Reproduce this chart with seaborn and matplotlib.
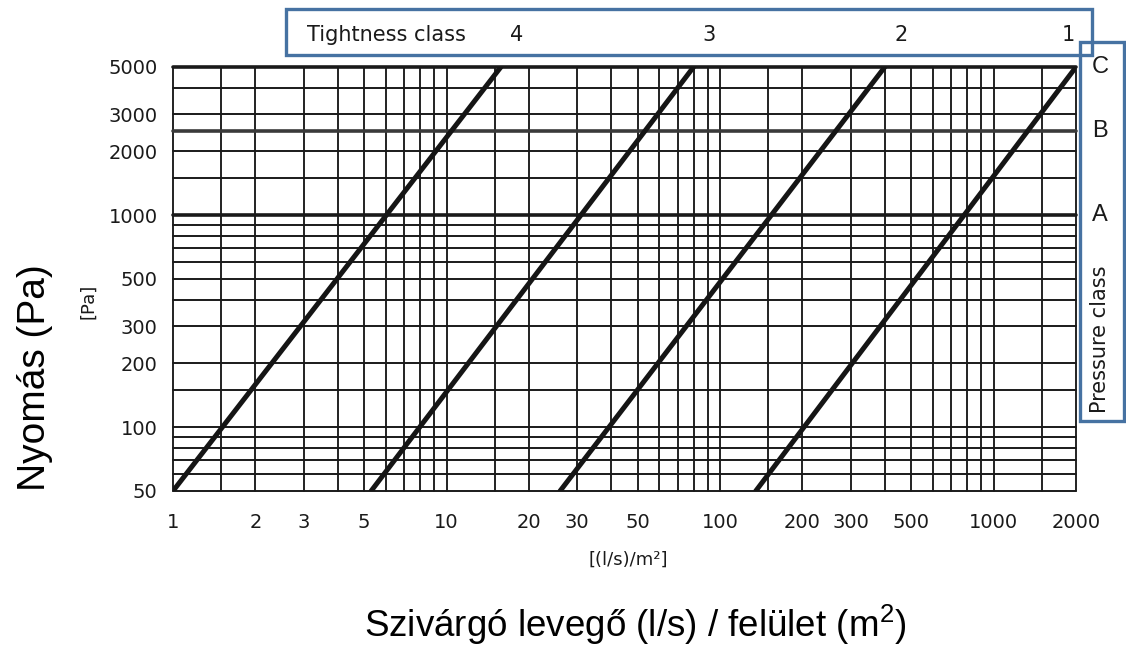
import matplotlib
matplotlib.use("Agg")
import matplotlib.pyplot as plt
import matplotlib.transforms as mtransforms
from matplotlib.patches import Rectangle
from matplotlib.ticker import NullLocator
import pandas as pd
import seaborn as sns

# ---------------- data ----------------
tightness_classes = ["4", "3", "2", "1"]
pressure_range = [50, 5000]                 # Pa, ends of each class line
leak_at_low = [1.0, 5.3, 26.0, 135.0]       # (l/s)/m² at 50 Pa
leak_at_high = [15.8, 80.0, 400.0, 2000.0]  # (l/s)/m² at 5000 Pa

x_ticks = [1, 2, 3, 5, 10, 20, 30, 50, 100, 200, 300, 500, 1000, 2000]
y_ticks = [50, 100, 200, 300, 500, 1000, 2000, 3000, 5000]
x_grid = [1, 1.5, 2, 3, 4, 5, 6, 7, 8, 9,
          10, 15, 20, 30, 40, 50, 60, 70, 80, 90,
          100, 150, 200, 300, 400, 500, 600, 700, 800, 900,
          1000, 1500, 2000]
y_grid = [50, 60, 70, 80, 90, 100, 150, 200, 300, 400, 500, 600, 700, 800, 900,
          1000, 1500, 2000, 2500, 3000, 4000, 5000]
pressure_classes = ["C", "B", "A"]
pressure_class_levels = [5000, 2500, 1000]

rows = []
for cls, lo, hi in zip(tightness_classes, leak_at_low, leak_at_high):
    rows.append({"class": cls, "q": lo, "p": pressure_range[0]})
    rows.append({"class": cls, "q": hi, "p": pressure_range[1]})
df = pd.DataFrame(rows)

# ---------------- style ----------------
sns.set_style("white")
plt.rcParams["font.family"] = ["DejaVu Sans"]
plt.rcParams["mathtext.fontset"] = "custom"
plt.rcParams["mathtext.rm"] = "Liberation Sans"
plt.rcParams["mathtext.it"] = "Liberation Sans:italic"

W, H = 1126, 646
fig = plt.figure(figsize=(W / 100, H / 100), dpi=100)
fig.patch.set_facecolor("white")

L, R, T, B = 173, 1076, 67, 491
ax = fig.add_axes([L / W, 1 - B / H, (R - L) / W, (B - T) / H])
ax.set_xscale("log")
ax.set_yscale("log")

grid_col = "#222222"
for xv in x_grid:
    ax.axvline(xv, color=grid_col, lw=1.4, zorder=1, clip_on=False)
for yv in y_grid:
    thick = yv in pressure_class_levels
    ax.axhline(yv, color=("#1a1a1a" if yv != 2500 else "#3a3a3a"),
               lw=(2.6 if thick else 1.4), zorder=2 if thick else 1, clip_on=False)

sns.lineplot(data=df, x="q", y="p", units="class", estimator=None,
             color="#151515", lw=3.6, ax=ax, legend=False, zorder=3)

ax.set_xlim(1, 2000)
ax.set_ylim(50, 5000)
ax.set_xticks(x_ticks)
ax.set_xticklabels([str(v) for v in x_ticks])
ax.set_yticks(y_ticks)
ax.set_yticklabels([str(v) for v in y_ticks])
ax.xaxis.set_minor_locator(NullLocator())
ax.yaxis.set_minor_locator(NullLocator())
ax.tick_params(axis="both", length=0, labelsize=14, colors="#1a1a1a")
ax.tick_params(axis="x", pad=16)
ax.tick_params(axis="y", pad=11)
ax.set_xlabel("")
ax.set_ylabel("")
for s in ax.spines.values():
    s.set_visible(False)

# ---------------- annotations ----------------
def fx(px):
    return px / W

def fy(py):
    return 1 - py / H

blue = "#4672a2"
fig.patches.append(Rectangle((fx(286), fy(55)), (1092 - 286) / W, 46 / H,
                             transform=fig.transFigure, fill=False,
                             edgecolor=blue, lw=2.4))
fig.patches.append(Rectangle((fx(1080), fy(421)), (1124 - 1080) / W, (421 - 42) / H,
                             transform=fig.transFigure, fill=False,
                             edgecolor=blue, lw=2.4))

fig.text(fx(307), fy(35), "Tightness class", ha="left", va="center",
         fontsize=15, color="#1a1a1a")
for lab, px in zip(tightness_classes, [517, 709, 901, 1068]):
    fig.text(fx(px), fy(35), lab, ha="center", va="center", fontsize=15, color="#1a1a1a")

trans = mtransforms.blended_transform_factory(ax.transAxes, ax.transData)
for lab, lvl in zip(pressure_classes, pressure_class_levels):
    ax.text((1100 - L) / (R - L), lvl, lab, transform=trans, ha="center", va="center",
            fontsize=17, color="#1a1a1a", family=["Liberation Sans"])
fig.text(fx(1100), fy(339), "Pressure class", rotation=90, ha="center", va="center",
         fontsize=15, color="#1a1a1a")

fig.text(fx(88), fy(301), "[Pa]", rotation=90, ha="center", va="center",
         fontsize=13, color="#1a1a1a")
fig.text(fx(628), fy(560), "[(l/s)/m²]", ha="center", va="center",
         fontsize=13, color="#1a1a1a")

fig.text(fx(35), fy(378), "Nyomás (Pa)", rotation=90, ha="center", va="center",
         fontsize=28, color="black", family=["Liberation Sans"])
fig.text(fx(635), fy(625), "Szivárgó levegő (l/s) / felület (m$^{2}$)",
         ha="center", va="center", fontsize=26.5, color="black",
         family=["Liberation Sans"])

fig.savefig("out.png", dpi=100, facecolor="white")
